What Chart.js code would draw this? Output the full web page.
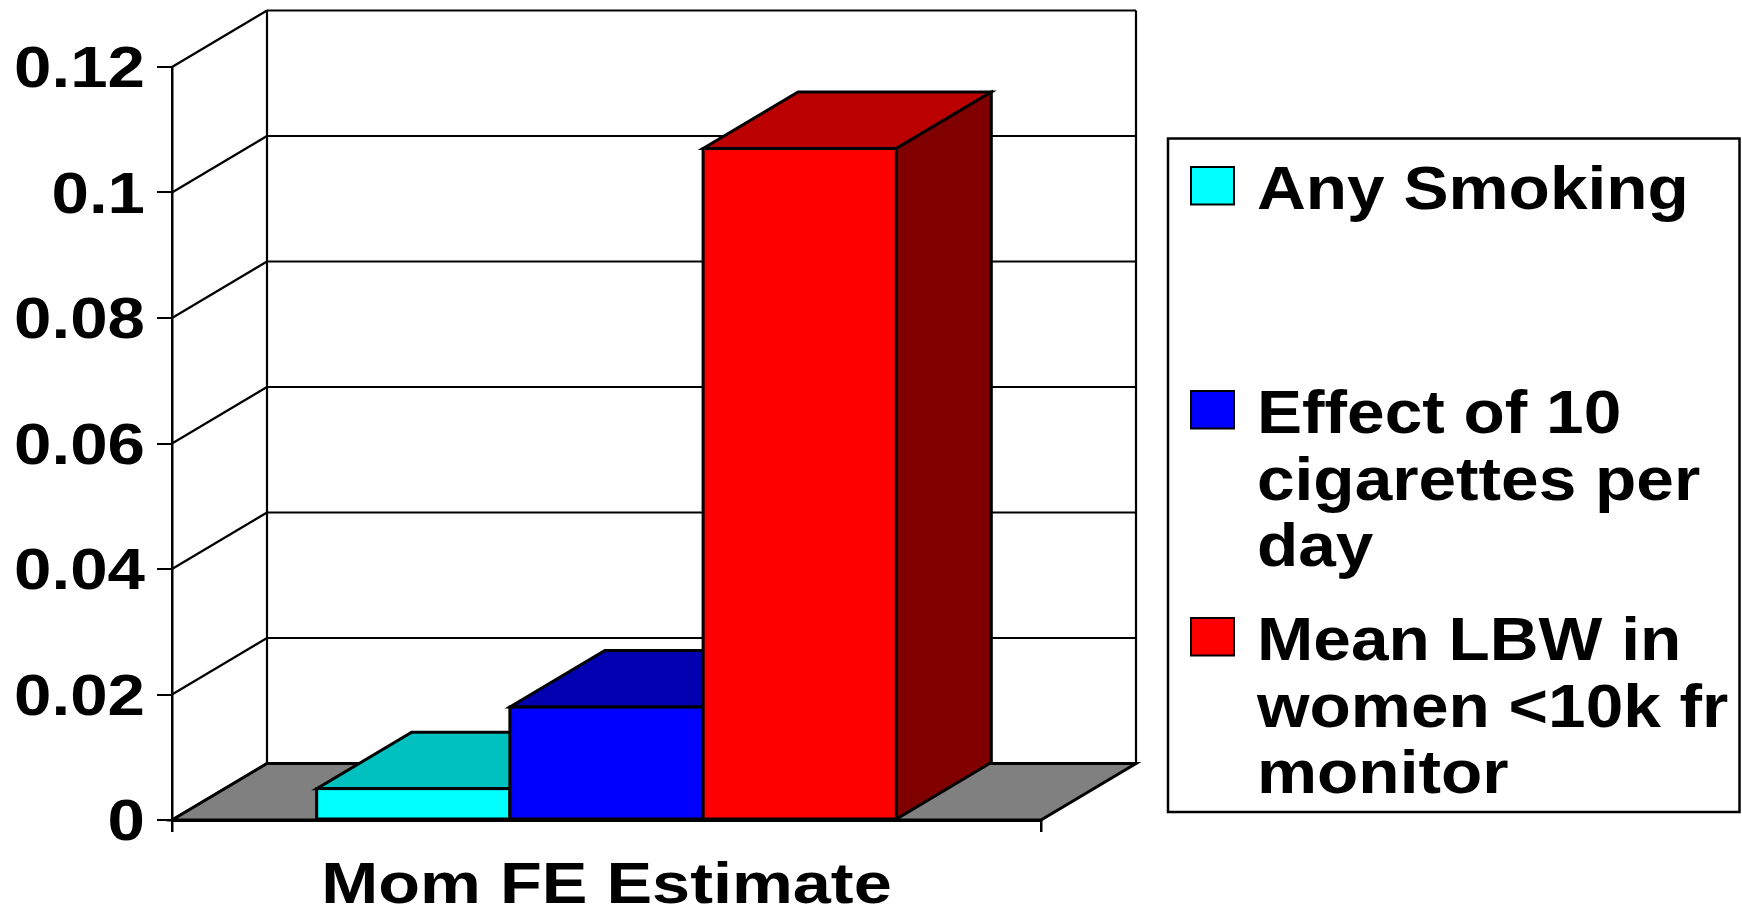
<!DOCTYPE html>
<html>
<head>
<meta charset="utf-8">
<script src="https://cdn.jsdelivr.net/npm/chart.js@4.4.1/dist/chart.umd.min.js"></script>
<style>
  html, body { margin: 0; padding: 0; background: #ffffff; overflow: hidden; }
  #wrap { position: relative; width: 1742px; height: 908px; }
</style>
</head>
<body>
<div id="wrap"><canvas id="chart" width="1742" height="908"></canvas></div>
<script>
// ---- data ----
const categories = ['Mom FE Estimate'];
const seriesNames = [
  ['Any Smoking'],
  ['Effect of 10', 'cigarettes per', 'day'],
  ['Mean LBW in', 'women <10k fr', 'monitor']
];
const anySmoking = [0.005];
const tenCigarettesPerDay = [0.018];
const meanLbwUnder10k = [0.107];
const yTickLabels = ['0', '0.02', '0.04', '0.06', '0.08', '0.1', '0.12'];

// ---- styling ----
const FONT = '"Liberation Sans", Arial, sans-serif';
const frontColors = ['#00FFFF', '#0000FF', '#FF0000'];
const topColors = ['#00C0C0', '#0000B0', '#BB0000'];
const sideColors = ['#008080', '#000080', '#800000'];
const floorColor = '#808080';
const DEPTH_X = 95;    // horizontal depth offset of the 3-D box
const DEPTH_Y = 56.5;  // vertical depth offset of the 3-D box

function poly(ctx, pts, fill, lw) {
  ctx.beginPath();
  ctx.moveTo(pts[0][0], pts[0][1]);
  for (let i = 1; i < pts.length; i++) ctx.lineTo(pts[i][0], pts[i][1]);
  ctx.closePath();
  if (fill) { ctx.fillStyle = fill; ctx.fill(); }
  ctx.lineWidth = lw;
  ctx.strokeStyle = '#000000';
  ctx.lineJoin = 'miter';
  ctx.stroke();
}

// Back wall, side wall and floor of the 3-D plot box
const boxPlugin = {
  id: 'box3d',
  beforeDatasetsDraw(chart) {
    const { ctx, chartArea, scales } = chart;
    const { left, right, bottom } = chartArea;
    const y = scales.y;
    const topPx = y.getPixelForValue(y.max);
    ctx.save();
    ctx.strokeStyle = '#000000';
    ctx.lineCap = 'butt';

    // back wall gridlines + left wall diagonals
    ctx.lineWidth = 2.2;
    y.ticks.forEach((t, i) => {
      const py = y.getPixelForTick(i);
      ctx.beginPath();
      ctx.moveTo(left + DEPTH_X, py - DEPTH_Y);
      ctx.lineTo(right + DEPTH_X, py - DEPTH_Y);
      ctx.stroke();
      ctx.beginPath();
      ctx.moveTo(left, py);
      ctx.lineTo(left + DEPTH_X, py - DEPTH_Y);
      ctx.stroke();
    });
    // back wall verticals
    ctx.beginPath();
    ctx.moveTo(left + DEPTH_X, topPx - DEPTH_Y);
    ctx.lineTo(left + DEPTH_X, bottom - DEPTH_Y);
    ctx.moveTo(right + DEPTH_X, topPx - DEPTH_Y);
    ctx.lineTo(right + DEPTH_X, bottom - DEPTH_Y);
    ctx.stroke();

    // floor
    poly(ctx, [
      [left, bottom], [right, bottom],
      [right + DEPTH_X, bottom - DEPTH_Y], [left + DEPTH_X, bottom - DEPTH_Y]
    ], floorColor, 3);
    ctx.restore();
  },
  afterDatasetsDraw(chart) {
    const { ctx } = chart;
    // left-to-right so each bar's front hides the previous bar's side
    for (let i = 0; i < chart.data.datasets.length; i++) {
      const meta = chart.getDatasetMeta(i);
      if (meta.hidden) continue;
      ctx.save();
      meta.data.forEach(el => {
        const { x, y, base, width } = el.getProps(['x', 'y', 'base', 'width'], true);
        const l = x - width / 2, r = x + width / 2;
        poly(ctx, [[l, y], [r, y], [r + DEPTH_X, y - DEPTH_Y], [l + DEPTH_X, y - DEPTH_Y]], topColors[i], 3);
        poly(ctx, [[r, y], [r + DEPTH_X, y - DEPTH_Y], [r + DEPTH_X, base - DEPTH_Y], [r, base]], sideColors[i], 3);
      });
      ctx.restore();
      meta.controller.draw();
      ctx.save();
      meta.data.forEach(el => {
        const { x, y, base, width } = el.getProps(['x', 'y', 'base', 'width'], true);
        ctx.lineWidth = 3;
        ctx.strokeStyle = '#000000';
        ctx.strokeRect(x - width / 2, y, width, base - y);
      });
      ctx.restore();
    }
  },
  afterDraw(chart) {
    const { ctx, scales } = chart;
    const x = scales.x, y = scales.y;
    ctx.save();
    ctx.fillStyle = '#000000';

    // value axis labels
    ctx.font = 'bold 57px ' + FONT;
    ctx.textAlign = 'right';
    ctx.textBaseline = 'alphabetic';
    const labelRight = y.right - y.options.grid.tickLength - 12;
    y.ticks.forEach((t, i) => {
      const py = y.getPixelForTick(i);
      ctx.save();
      ctx.translate(labelRight, py + 20);
      ctx.scale(1.18, 1);
      ctx.fillText(yTickLabels[i] ?? '', 0, 0);
      ctx.restore();
    });

    // category label
    ctx.font = 'bold 58px ' + FONT;
    ctx.textAlign = 'center';
    chart.data.labels.forEach((lab, i) => {
      ctx.save();
      ctx.translate(x.getPixelForTick(i), x.top + 83);
      ctx.scale(1.18, 1);
      ctx.fillText(lab, 0, 0);
      ctx.restore();
    });

    // legend
    const box = { l: 1168, t: 138.5, r: 1739.5, b: 812 };
    ctx.lineWidth = 2.5;
    ctx.strokeStyle = '#000000';
    ctx.strokeRect(box.l, box.t, box.r - box.l, box.b - box.t);
    const firstBaselines = [209, 433, 660];
    const lineHeight = 66.7;
    ctx.font = 'bold 62px ' + FONT;
    ctx.textAlign = 'left';
    chart.data.datasets.forEach((ds, i) => {
      const b0 = firstBaselines[i];
      ctx.fillStyle = frontColors[i];
      ctx.fillRect(1191, b0 - 42, 43, 37.5);
      ctx.lineWidth = 2;
      ctx.strokeRect(1191, b0 - 42, 43, 37.5);
      ctx.fillStyle = '#000000';
      seriesNames[i].forEach((line, k) => {
        ctx.save();
        ctx.translate(1257, b0 + k * lineHeight);
        ctx.scale(1.09, 1);
        ctx.fillText(line, 0, 0);
        ctx.restore();
      });
    });
    ctx.restore();
  }
};

const seriesValues = [anySmoking, tenCigarettesPerDay, meanLbwUnder10k];

new Chart(document.getElementById('chart'), {
  type: 'bar',
  data: {
    labels: categories,
    datasets: seriesValues.map((vals, i) => ({
      label: seriesNames[i].join(' '),
      data: vals,
      backgroundColor: frontColors[i],
      borderWidth: 0,
      barPercentage: 1.0,
      categoryPercentage: 0.667
    }))
  },
  options: {
    responsive: false,
    animation: false,
    devicePixelRatio: 1,
    layout: { padding: { top: 67, right: 701, left: 0, bottom: 0 } },
    plugins: { legend: { display: false }, tooltip: { enabled: false } },
    scales: {
      x: {
        type: 'category',
        offset: true,
        grid: { offset: true, drawOnChartArea: false, drawTicks: true, tickLength: 12, color: '#000000', lineWidth: 2.5 },
        border: { display: true, color: '#000000', width: 3 },
        ticks: { display: false },
        afterFit(s) { s.height = 88; }
      },
      y: {
        min: 0,
        max: 0.12,
        ticks: { stepSize: 0.02, display: false },
        grid: { drawOnChartArea: false, drawTicks: true, tickLength: 15, color: '#000000', lineWidth: 2 },
        border: { display: true, color: '#000000', width: 2.5 },
        afterFit(s) { s.width = 172; }
      }
    }
  },
  plugins: [boxPlugin]
});
</script>
</body>
</html>
